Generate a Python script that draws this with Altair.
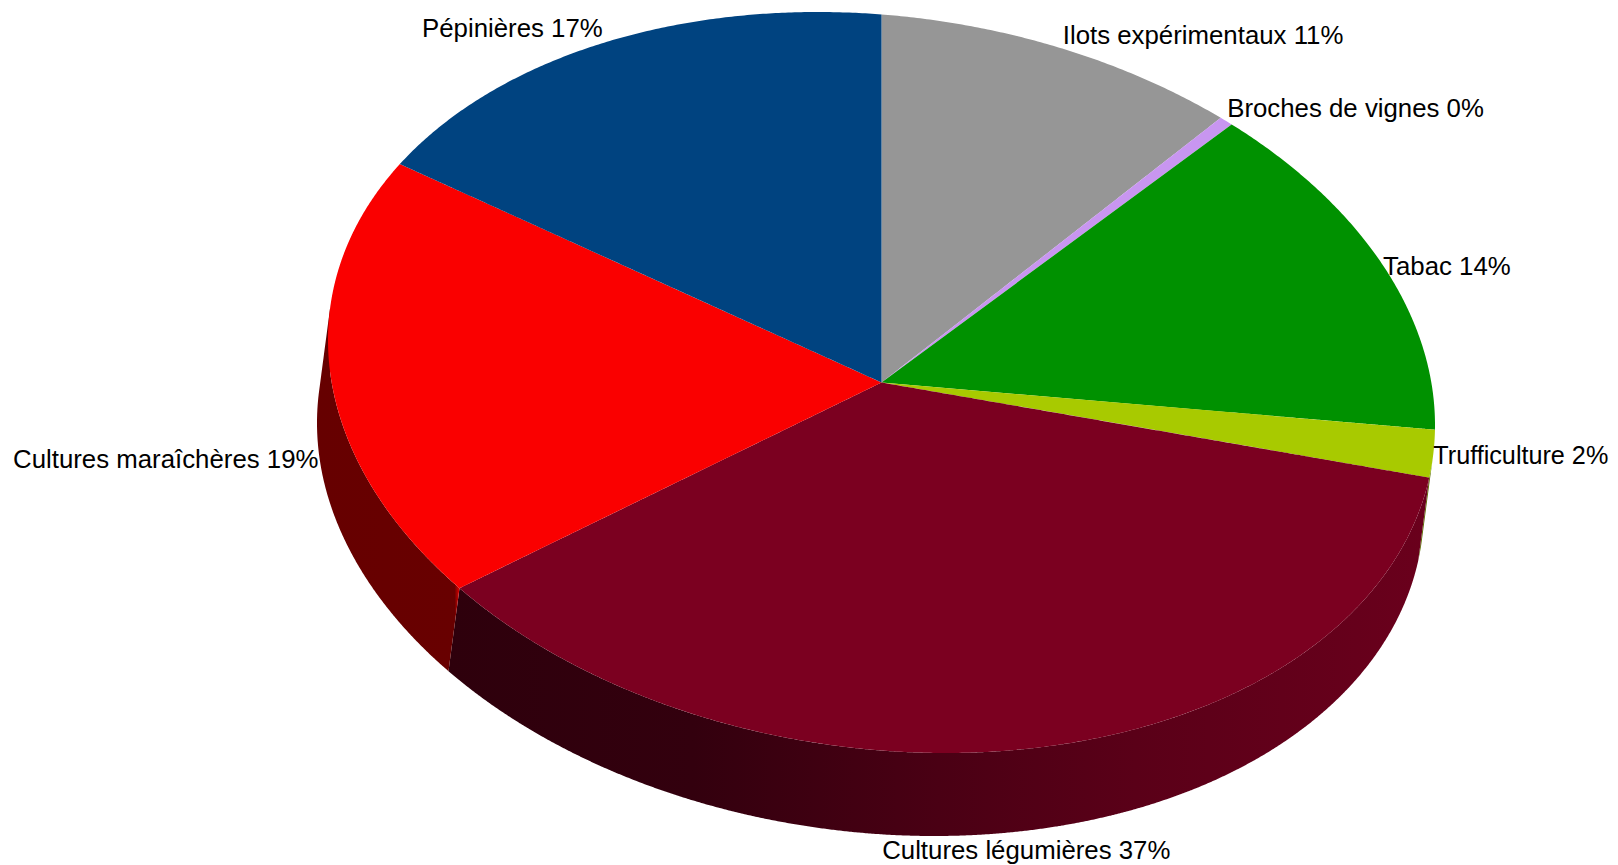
import math
import altair as alt
import pandas as pd

# ---- data -----------------------------------------------------------------
NAMES = ["Ilots expérimentaux", "Broches de vignes", "Tabac", "Trufficulture",
         "Cultures légumières", "Cultures maraîchères", "Pépinières"]
SHARES = [10.5, 0.4, 14.3, 2.1, 36.5, 19.4, 16.8]
LABEL_PCT = [11, 0, 14, 2, 37, 19, 17]
COLORS = ["#969696", "#c896f0", "#009100", "#a8ca00", "#7b0020", "#fa0000", "#004380"]

# ---- style and layout -------------------------------------------------------
W, H = 1602, 857
CX, CY, RX, RY, RHO = 881.5, 382.5, 553.5, 370.5, 0.115
SHIFT_X, SHIFT_Y = -11.0, 83.0
FONT = "Liberation Sans"
FONT_SIZES = [25.8, 25.8, 25.8, 25.2, 25.8, 25.8, 25.8]
LABEL_ALIGN = ["left", "left", "left", "left", "center", "right", "right"]
LABEL_BASE = ["bottom", "bottom", "middle", "middle", "top", "middle", "bottom"]
LABEL_DX = [2, 1, 0, 0, 3, -1, 0]
LABEL_DY = [1, 1, 2, 2, 8, 2, -1]
WALL_STOPS = {
    3: [(0, "#5a6e00"), (1, "#5a6e00")],
    4: [(0, "#2e000c"), (0.25, "#33000e"), (0.5, "#4a0014"), (0.7, "#5a0018"), (1, "#6a001c")],
    5: [(0, "#660000"), (0.965, "#680000"), (1, "#e00000")],
}
VISIBLE_FROM, VISIBLE_TO = 95.0, 275.0


def point(t_deg, wall=False):
    th = math.radians(t_deg - 90)
    x = CX + RX * math.cos(th)
    y = CY + RY * (RHO * math.cos(th) + math.sqrt(1 - RHO ** 2) * math.sin(th))
    return (x + SHIFT_X, y + SHIFT_Y) if wall else (x, y)


def arc(a, b, wall=False, per_deg=3):
    n = max(2, int(abs(b - a) * per_deg) + 1)
    return [point(a + (b - a) * i / (n - 1), wall) for i in range(n)]


def to_area(poly):
    """Vertical-slice a polygon into x / y / y2 rows for an area mark."""
    edges = list(zip(poly, poly[1:] + poly[:1]))
    rows = []
    for x in sorted({round(p[0], 2) for p in poly}):
        ys = []
        for (x0, y0), (x1, y1) in edges:
            if min(x0, x1) - 0.006 <= x <= max(x0, x1) + 0.006:
                if abs(x1 - x0) < 1e-6:
                    ys += [y0, y1]
                else:
                    f = min(1, max(0, (x - x0) / (x1 - x0)))
                    ys.append(y0 + f * (y1 - y0))
        if ys:
            rows.append({"x": x, "y": min(ys), "y2": max(ys)})
    return rows


xs = alt.X("x:Q", axis=None, scale=alt.Scale(domain=[8, 8 + W], nice=False, zero=False))
ys = alt.Y("y:Q", axis=None, scale=alt.Scale(domain=[8 + H, 8], nice=False, zero=False))
y2 = alt.Y2("y2:Q")

edges_t = [0.0]
for s in SHARES:
    edges_t.append(edges_t[-1] + s * 3.6)

layers = []

# side walls
for i, stops in WALL_STOPS.items():
    a = max(edges_t[i], VISIBLE_FROM)
    b = min(edges_t[i + 1], VISIBLE_TO)
    poly = arc(a, b) + arc(b, a, wall=True)
    grad = alt.Gradient(gradient="linear", x1=0, x2=1, y1=0, y2=0,
                        stops=[alt.GradientStop(offset=o, color=c) for o, c in stops])
    layers.append(alt.Chart(pd.DataFrame(to_area(poly))).mark_area(color=grad, strokeWidth=0)
                  .encode(x=xs, y=ys, y2=y2))

# top surface
rows = []
for i, name in enumerate(NAMES):
    poly = [(CX, CY)] + arc(edges_t[i], edges_t[i + 1])
    for r in to_area(poly):
        r["name"] = name
        rows.append(r)
layers.append(alt.Chart(pd.DataFrame(rows)).mark_area(strokeWidth=0).encode(
    x=xs, y=ys, y2=y2,
    color=alt.Color("name:N", legend=None, scale=alt.Scale(domain=NAMES, range=COLORS)),
))

# labels, anchored at the outer middle of each slice
for i, name in enumerate(NAMES):
    mid = (edges_t[i] + edges_t[i + 1]) / 2
    x, y = point(mid, wall=VISIBLE_FROM <= mid <= VISIBLE_TO)
    frame = pd.DataFrame([{"x": x, "y": y, "label": f"{name} {LABEL_PCT[i]}%"}])
    layers.append(alt.Chart(frame).mark_text(
        align=LABEL_ALIGN[i], baseline=LABEL_BASE[i], dx=LABEL_DX[i], dy=LABEL_DY[i],
        font=FONT, fontSize=FONT_SIZES[i], color="#000000",
    ).encode(x=xs, y=ys, text="label:N"))

chart = alt.layer(*layers).properties(
    width=W, height=H, padding=0,
    autosize=alt.AutoSizeParams(type="none"),
    background="#ffffff",
).configure_view(stroke=None)

chart.save("out.html", embed_options={"renderer": "svg", "actions": False})
